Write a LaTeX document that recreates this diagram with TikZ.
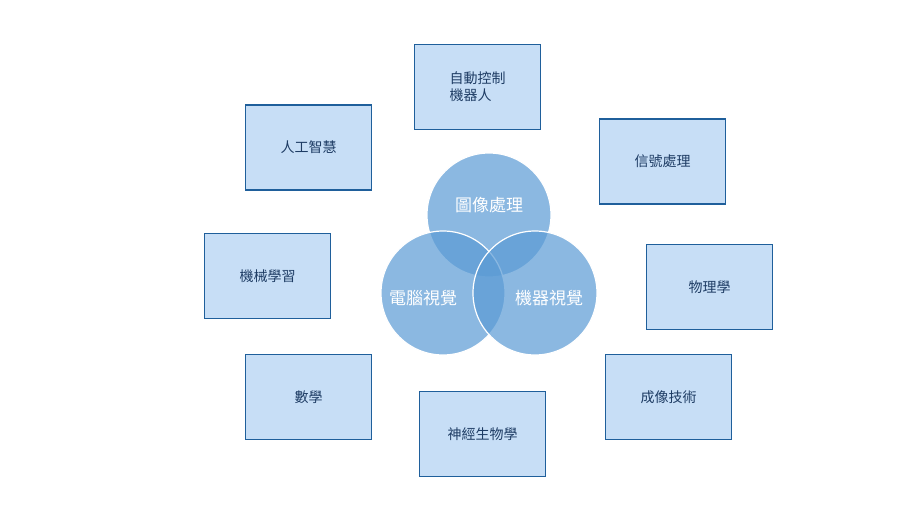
\documentclass[tikz,border=0pt]{standalone}
\usepackage{fontspec}
\setmainfont{Noto Sans CJK TC}
\begin{document}
\begin{tikzpicture}[x=1pt,y=-1pt,
 box/.style={draw={rgb,255:red,31;green,95;blue,155},line width=1.5pt,fill={rgb,255:red,199;green,222;blue,246},minimum width=126pt,minimum height=85pt,inner sep=0pt,text={rgb,255:red,30;green,60;blue,100},font=\fontsize{14}{17}\selectfont,align=left},
 circ/.style={circle,draw=white,line width=1.2pt,fill={rgb,255:red,91;green,155;blue,213},fill opacity=0.7,text opacity=1,text=white,minimum size=124pt,inner sep=0pt,font=\fontsize{17}{20}\selectfont}]
\useasboundingbox (0,0) rectangle (900,506);
\fill[white] (0,0) rectangle (900,506);
\node[box] (a) at (477.5,87) {自動控制\\機器人};
\node[box] (b) at (308.5,147.5) {人工智慧};
\node[box] (c) at (662.5,161.5) {信號處理};
\node[box] (d) at (267.5,276) {機械學習};
\node[box] (e) at (709.5,287) {物理學};
\node[box] (f) at (308.5,397) {數學};
\node[box] (g) at (668.5,397) {成像技術};
\node[box] (h) at (482.5,434) {神經生物學};
\node[circ] (t) at (489,215) {};
\node[circ] (l) at (443,293) {};
\node[circ] (r) at (535,293) {};
\node[text=white,font=\fontsize{17}{20}\selectfont] (tt) at (489,205) {圖像處理};
\node[text=white,font=\fontsize{17}{20}\selectfont] (lt) at (423,298) {電腦視覺};
\node[text=white,font=\fontsize{17}{20}\selectfont] (rt) at (549,298) {機器視覺};
\end{tikzpicture}
\end{document}
